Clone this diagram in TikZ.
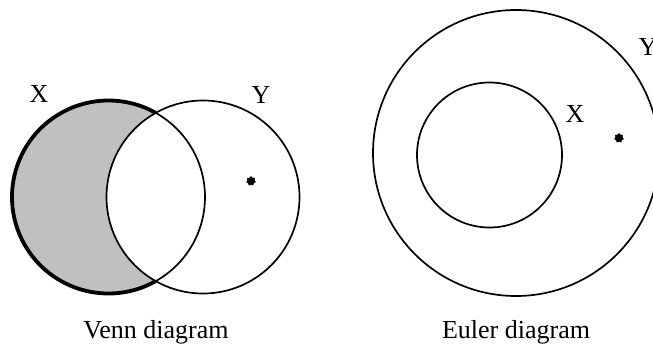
\documentclass[tikz,border=0pt]{standalone}
\usepackage{fontspec}
\setmainfont{Liberation Serif}
\usetikzlibrary{shapes.geometric}
\begin{document}
\begin{tikzpicture}[x=1pt,y=-1pt,
  setline/.style={line width=1.7pt},
  thickline/.style={line width=3.8pt},
  lbl/.style={font=\fontsize{26}{30}\selectfont, inner sep=0pt, anchor=base},
  elem/.style={star, star points=7, star point ratio=1.35, fill=black, draw=black, line width=0.6pt, inner sep=0pt, minimum size=9pt}]
\useasboundingbox (0,0) rectangle (653,348);
\clip (0,0) rectangle (653,348);
% Venn diagram
\coordinate (vX) at (108.5,197);
\coordinate (vY) at (203,197);
\fill[fill={rgb,255:red,192;green,192;blue,192}] (vX) circle (96.5);
\fill[white] (vY) circle (96.5);
\draw[setline] (vX) circle (96.5);
\draw[setline] (vY) circle (96.5);
\draw[thickline] ([shift={(60.67:96.5)}]vX) arc[start angle=60.67, end angle=299.33, radius=96.5];
\node[lbl] (vXl) at (39,102) {X};
\node[lbl] (vYl) at (261,103) {Y};
\node[elem] (vdot) at (251,181) {};
\node[lbl] (vcap) at (156,338) {Venn diagram};
% Euler diagram
\coordinate (eY) at (516,153);
\coordinate (eX) at (489.5,155);
\draw[setline] (eY) circle (143);
\draw[setline] (eX) circle (72.5);
\node[lbl] (eXl) at (575,122) {X};
\node[lbl] (eYl) at (648,55) {Y};
\node[elem] (edot) at (619,138) {};
\node[lbl] (ecap) at (516,338) {Euler diagram};
\end{tikzpicture}
\end{document}
